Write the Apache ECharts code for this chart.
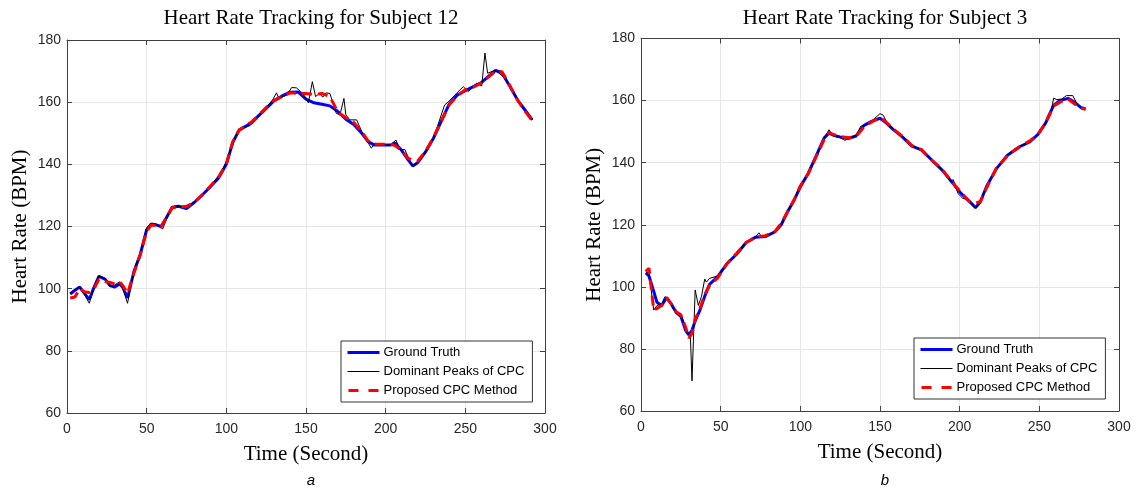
<!DOCTYPE html>
<html>
<head>
<meta charset="utf-8">
<script src="https://cdn.jsdelivr.net/npm/echarts@6/dist/echarts.min.js"></script>
<style>
  html, body { margin: 0; padding: 0; background: #fff; }
  #chart { width: 1136px; height: 488px; }
</style>
</head>
<body>
<div id="chart"></div>
<script>
// Subject 12 (chart a)
const timeA = [2, 5, 8, 11, 14, 17, 20, 24, 27, 30, 33, 35, 38, 42, 46, 50, 53, 56, 59, 62, 66, 70, 75, 80, 85, 90, 95, 100, 104, 108, 112, 116, 120, 125, 130, 135, 140, 145, 150, 155, 160, 165, 170, 175, 180, 185, 189, 193, 198, 203, 206, 210, 214, 217, 220, 225, 230, 235, 240, 245, 250, 255, 260, 265, 269, 273, 278, 283, 287, 292]
const truthA = [98.3, 99.5, 100.5, 98.5, 96.5, 100.5, 104, 103, 101, 100.5, 101.5, 100.5, 97, 105.5, 111, 119, 120.8, 120.5, 120, 122.5, 126.2, 126.5, 125.8, 127.8, 130.2, 132.8, 135.5, 140, 147, 151, 152.2, 153.5, 155.5, 158, 160.5, 162, 163.2, 163.3, 161, 159.8, 159.3, 158.8, 157, 154.5, 152.8, 150, 147.3, 146.2, 146.2, 146.2, 146.8, 144.5, 141.5, 139.5, 140.5, 144, 148.4, 154, 159.5, 162.3, 163.7, 165, 166.3, 168.5, 170.2, 169.5, 165, 160.5, 157.8, 154.3]
const cpcA = [97, 97.3, 100, 99, 98.8, 100, 103, 102.3, 102, 101.5, 102.2, 101, 98.5, 105, 111, 118.5, 120.5, 120.3, 119.8, 122.5, 126, 126.3, 126.5, 127.8, 130.3, 133, 135.8, 140.2, 147.3, 151, 152.3, 153.7, 155.7, 158.3, 160.5, 161.8, 163, 162.8, 162.8, 162.5, 162.8, 161.8, 156.8, 155, 153.5, 150.5, 147.5, 146.5, 146.5, 146.5, 146, 144.5, 142, 141.2, 141, 144.2, 148.6, 154, 159.3, 162, 164, 164.8, 166.2, 168.3, 170, 169.8, 165.3, 160.5, 157.5, 154]
const peakTimeA = [2, 5, 8, 11, 14, 17, 20, 24, 27, 30, 33, 35, 38, 42, 46, 50, 52, 56, 58, 60, 63, 66, 70, 75, 78, 82, 88, 93, 97, 102, 107, 110, 115, 120, 125, 129, 131.5, 133, 138, 141, 144, 148, 151.5, 154, 156, 158.5, 160.5, 162.5, 165, 167, 169, 171.3, 173.8, 175, 177.6, 181.8, 185, 188, 191, 193.3, 197.5, 202.7, 206.5, 209, 212, 214, 217, 222.6, 230, 237, 239.3, 244.6, 248.7, 251.9, 257, 260.3, 262.3, 264, 268.6, 273.8, 278, 286.4, 288.5, 292]
const peakA = [98.5, 99.8, 100.6, 98, 95.3, 100.5, 104.2, 103.3, 100.6, 101.2, 102.2, 100, 95.3, 106, 111.5, 119.5, 120.8, 120.8, 120, 119.2, 123, 126.4, 126.6, 126, 127.3, 128.5, 131.5, 135, 137.5, 143.5, 150.5, 151.5, 152.5, 155.5, 158.2, 160.7, 163, 161.2, 162.3, 164.7, 164.6, 162.8, 159.8, 166.6, 161.8, 162.8, 161.6, 163, 162.8, 159.6, 156.4, 155.9, 161.2, 155.9, 154.3, 154.3, 150.5, 147.8, 145.2, 146.8, 146.2, 146.2, 147.8, 144.6, 144.8, 142.5, 139.3, 141.9, 148.4, 159.1, 160.1, 162.9, 165, 163.4, 166.1, 165.2, 175.8, 169.3, 170.3, 168.2, 165, 158, 156.9, 154.3]

// Subject 3 (chart b)
const timeB = [3, 5, 8, 10, 13, 16, 19, 22, 25, 28, 30, 32, 34, 37, 40, 43, 48, 54, 60, 66, 72, 78, 84, 88, 92, 96, 100, 105, 110, 115, 118, 121, 125, 130, 135, 140, 145, 150, 153, 158, 164, 170, 176, 182, 189, 195, 201, 206, 210, 213, 217, 223, 230, 238, 244, 249, 254, 259, 263, 268, 272, 276, 279]
const truthB = [104.5, 103.5, 98.5, 95, 94, 96.5, 94.5, 91.8, 90.5, 86, 84.5, 86, 89, 92.5, 97, 100.8, 103.2, 107.5, 110.5, 114.3, 116, 116.2, 117.7, 120, 124.2, 127.8, 132.2, 136.6, 142.3, 148, 149.5, 148.8, 148.3, 147.8, 148.6, 152, 153.4, 154.3, 153.2, 150.8, 148.3, 145.3, 144.1, 141.1, 137.6, 133.8, 130, 127.6, 125.5, 127.4, 132.5, 138, 142.4, 145.2, 146.7, 149, 152.8, 158.5, 160, 160.7, 159.5, 157.8, 157.3]
const cpcB = [105, 106, 92.5, 93, 94, 96.5, 94.5, 92, 91, 87, 83.5, 85, 89.5, 93, 97.5, 100.5, 102.8, 107.5, 110.8, 114.3, 116, 116.5, 117.8, 120.5, 124.2, 128, 132.5, 136.5, 142, 147.5, 149.8, 149, 148.5, 148, 148.5, 151.5, 153.2, 154.5, 153.5, 151, 148.5, 145.5, 144.2, 141, 137.8, 134, 130.3, 127.5, 127, 127.5, 132, 138.2, 142.3, 145.3, 147, 149, 153, 158.3, 159.5, 160.5, 159, 157.5, 157.2]
const peakTimeB = [3, 5, 8, 10, 13, 15, 17, 20, 22, 25, 27, 29, 31, 32, 34, 36, 38, 40, 41, 43, 48, 54, 60, 66, 72, 74, 76, 78, 84, 88, 92, 96, 100, 105, 110, 115, 118, 121, 125, 128, 131, 135, 138, 141, 145, 150, 152, 155, 158, 164, 166, 170, 176, 182, 189, 194, 196, 199, 202, 204, 207, 210, 213, 217, 223, 230, 236, 244, 249, 254, 257, 259, 261, 264, 267, 271, 274, 276, 279]
const peakB = [104.8, 104.5, 92.5, 94, 94.5, 96.8, 96.5, 93, 91.8, 91, 88.5, 85, 84, 69.7, 99, 94, 97, 102.5, 101.5, 102.7, 103.5, 107.8, 110.5, 114.5, 116.2, 117.4, 116, 116.2, 117.6, 120, 124.5, 128, 132.8, 136.5, 141.8, 148, 150.6, 148.5, 148, 147.2, 148, 148.8, 151.8, 152, 153.5, 155.8, 155.3, 152.3, 151, 148.3, 147.8, 145.8, 143.8, 141, 137.6, 134, 134.5, 130, 128.5, 128.2, 127, 125.3, 127.5, 132.5, 138, 142.6, 145, 146.7, 149, 153, 155.5, 160.8, 160.3, 160.5, 161.6, 161.6, 158.6, 157.6, 157.3]

const xTicks = [0, 50, 100, 150, 200, 250, 300]
const yTicks = [60, 80, 100, 120, 140, 160, 180]

const pair = (t, v) => t.map((x, i) => [x, v[i]])

const chart = echarts.init(document.getElementById('chart'))

const axisColor = '#404040'
const serif = 'Liberation Serif'
const sans = 'Liberation Sans'

const grids = [
  { left: 67, top: 40, width: 478, height: 373 },
  { left: 641, top: 38.5, width: 478, height: 372.5 }
]

// main axes (bottom/left) + box axes (top/right) for each panel
const xAxes = []
const yAxes = []
grids.forEach((g, i) => {
  xAxes.push({
    type: 'value', gridIndex: i, min: xTicks[0], max: xTicks[xTicks.length - 1], interval: 50,
    name: 'Time (Second)', nameLocation: 'middle', nameGap: 31,
    nameTextStyle: { fontFamily: serif, fontSize: 21, color: '#000' },
    axisLine: { onZero: false, lineStyle: { color: axisColor, width: 1 } },
    axisTick: { inside: true, length: 5, lineStyle: { color: axisColor } },
    axisLabel: { fontFamily: sans, fontSize: 14, color: '#262626', margin: 9 },
    splitLine: { show: true, lineStyle: { color: '#e6e6e6', width: 1 } }
  })
  xAxes.push({
    type: 'value', gridIndex: i, position: 'top', min: 0, max: 300, interval: 50,
    axisLine: { onZero: false, lineStyle: { color: axisColor, width: 1 } },
    axisTick: { inside: true, length: 5, lineStyle: { color: axisColor } },
    axisLabel: { show: false }, splitLine: { show: false }
  })
  yAxes.push({
    type: 'value', gridIndex: i, min: yTicks[0], max: yTicks[yTicks.length - 1], interval: 20,
    name: 'Heart Rate (BPM)', nameLocation: 'middle', nameGap: 36,
    nameTextStyle: { fontFamily: serif, fontSize: 21, color: '#000' },
    axisLine: { show: true, onZero: false, lineStyle: { color: axisColor, width: 1 } },
    axisTick: { show: true, inside: true, length: 5, lineStyle: { color: axisColor } },
    axisLabel: { fontFamily: sans, fontSize: 14, color: '#262626', margin: 6 },
    splitLine: { show: true, lineStyle: { color: '#e6e6e6', width: 1 } }
  })
  yAxes.push({
    type: 'value', gridIndex: i, position: 'right', min: 60, max: 180, interval: 20,
    axisLine: { show: true, onZero: false, lineStyle: { color: axisColor, width: 1 } },
    axisTick: { show: true, inside: true, length: 5, lineStyle: { color: axisColor } },
    axisLabel: { show: false }, splitLine: { show: false }
  })
})

const makeSeries = (idx, truth, peaks, cpc) => [
  {
    name: 'Ground Truth', type: 'line', xAxisIndex: idx * 2, yAxisIndex: idx * 2,
    data: truth, showSymbol: false, symbol: 'none',
    lineStyle: { color: '#0000ff', width: 3 }, itemStyle: { color: '#0000ff' }
  },
  {
    name: 'Dominant Peaks of CPC', type: 'line', xAxisIndex: idx * 2, yAxisIndex: idx * 2,
    data: peaks, showSymbol: false, symbol: 'none',
    lineStyle: { color: '#000', width: 1 }, itemStyle: { color: '#000' }
  },
  {
    name: 'Proposed CPC Method', type: 'line', xAxisIndex: idx * 2, yAxisIndex: idx * 2,
    data: cpc, showSymbol: false, symbol: 'none',
    lineStyle: { color: '#ff0000', width: 3, type: [10, 6] }, itemStyle: { color: '#ff0000' }
  }
]

const legendBase = {
  orient: 'vertical',
  itemWidth: 32, itemHeight: 12, itemGap: 6,
  padding: [5, 8, 5, 5],
  borderColor: '#333', borderWidth: 1, backgroundColor: '#fff',
  itemStyle: { opacity: 0 },
  textStyle: { fontFamily: sans, fontSize: 13, color: '#000', padding: [0, 0, 0, -1] },
  selectedMode: false,
  data: [
    { name: 'Ground Truth', lineStyle: { width: 3 } },
    { name: 'Dominant Peaks of CPC', lineStyle: { width: 1 } },
    { name: 'Proposed CPC Method', lineStyle: { width: 3, type: [10, 10], dashOffset: -1 } }
  ]
}

chart.setOption({
  animation: false,
  backgroundColor: '#fff',
  title: [
    { text: 'Heart Rate Tracking for Subject 12', left: 306, top: 3, textAlign: 'center',
      textStyle: { fontFamily: serif, fontSize: 21, fontWeight: 'normal', color: '#000' } },
    { text: 'Heart Rate Tracking for Subject 3', left: 880, top: 3, textAlign: 'center',
      textStyle: { fontFamily: serif, fontSize: 21, fontWeight: 'normal', color: '#000' } },
    { text: 'a', left: 306, top: 468, textAlign: 'center',
      textStyle: { fontFamily: sans, fontSize: 15, fontStyle: 'italic', fontWeight: 'normal', color: '#000' } },
    { text: 'b', left: 880, top: 468, textAlign: 'center',
      textStyle: { fontFamily: sans, fontSize: 15, fontStyle: 'italic', fontWeight: 'normal', color: '#000' } }
  ],
  legend: [
    Object.assign({}, legendBase, { left: 341, top: 341 }),
    Object.assign({}, legendBase, { left: 914, top: 338 })
  ],
  grid: grids.map(g => Object.assign({ show: true, borderColor: axisColor, borderWidth: 0 }, g)),
  xAxis: xAxes,
  yAxis: yAxes,
  series: [].concat(
    makeSeries(0, pair(timeA, truthA), pair(peakTimeA, peakA), pair(timeA, cpcA)),
    makeSeries(1, pair(timeB, truthB), pair(peakTimeB, peakB), pair(timeB, cpcB))
  )
})

window.addEventListener('resize', chart.resize)
</script>
</body>
</html>
